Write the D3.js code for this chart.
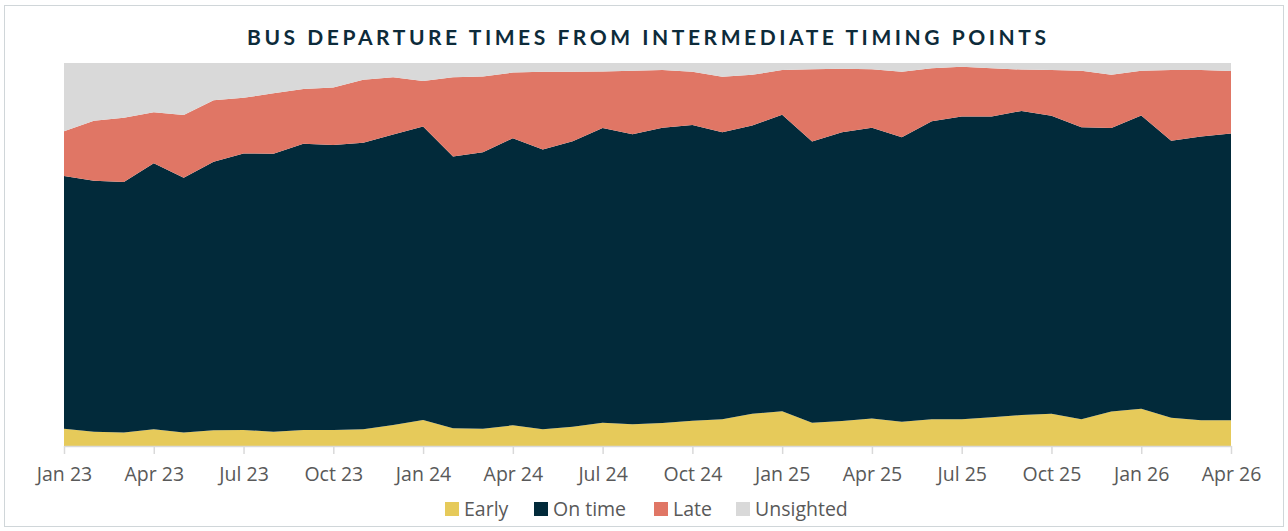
<!DOCTYPE html>
<html>
<head>
<meta charset="utf-8">
<script src="https://cdn.jsdelivr.net/npm/d3@7"></script>
<style>
  body { margin: 0; background: #fff; }
  svg { display: block; }
</style>
</head>
<body>
<div id="chart"></div>
<script>
// Bus departure times, share of departures by punctuality band (stacked to 100%)

const months = [
  "Jan 23", "Feb 23", "Mar 23", "Apr 23", "May 23", "Jun 23", "Jul 23", "Aug 23", "Sep 23", "Oct 23", "Nov 23", "Dec 23",
  "Jan 24", "Feb 24", "Mar 24", "Apr 24", "May 24", "Jun 24", "Jul 24", "Aug 24", "Sep 24", "Oct 24", "Nov 24", "Dec 24",
  "Jan 25", "Feb 25", "Mar 25", "Apr 25", "May 25", "Jun 25", "Jul 25", "Aug 25", "Sep 25", "Oct 25", "Nov 25", "Dec 25",
  "Jan 26", "Feb 26", "Mar 26", "Apr 26"
];

const early = [
  4.5, 3.7, 3.5, 4.4, 3.5, 4.1, 4.2, 3.7, 4.2, 4.2, 4.4, 5.5,
  6.8, 4.6, 4.5, 5.4, 4.4, 5.0, 6.1, 5.7, 6.0, 6.6, 7.0, 8.4,
  9.1, 6.1, 6.5, 7.2, 6.3, 7.0, 7.0, 7.5, 8.1, 8.4, 7.0, 9.0,
  9.7, 7.4, 6.7, 6.7
];
const onTime = [
  66.0, 65.6, 65.5, 69.5, 66.6, 70.1, 72.2, 72.6, 74.8, 74.3, 74.8, 75.8,
  76.6, 70.9, 72.2, 74.9, 73.0, 74.6, 76.9, 75.6, 77.1, 77.2, 74.9, 75.3,
  77.4, 73.4, 75.4, 75.9, 74.3, 77.8, 79.0, 78.5, 79.4, 77.8, 76.2, 74.0,
  76.6, 72.2, 74.0, 74.9
];
const late = [
  11.7, 15.7, 16.8, 13.3, 16.4, 16.1, 14.5, 15.8, 14.3, 15.0, 16.4, 15.0,
  11.9, 20.7, 19.8, 17.1, 20.3, 18.1, 14.8, 16.6, 15.1, 13.9, 14.5, 13.2,
  11.7, 18.9, 16.6, 15.3, 17.1, 13.8, 13.0, 12.6, 10.8, 12.0, 14.8, 13.9,
  11.7, 18.5, 17.4, 16.3
];
const unsighted = [
  17.8, 15.1, 14.3, 12.9, 13.6, 9.7, 9.1, 7.9, 6.8, 6.4, 4.4, 3.7,
  4.7, 3.7, 3.5, 2.5, 2.3, 2.3, 2.2, 2.0, 1.8, 2.3, 3.6, 3.1,
  1.8, 1.6, 1.5, 1.6, 2.3, 1.4, 1.0, 1.4, 1.7, 1.8, 2.0, 3.1,
  2.0, 1.8, 1.8, 2.1
];

const seriesNames = ["Early", "On time", "Late", "Unsighted"];
const seriesColors = ["#e6ca5a", "#022a3a", "#e07665", "#d9d9d9"];

const W = 1288, H = 531;
const plot = { left: 64, right: 1231, top: 63, bottom: 446 };
const labelFont = "'Open Sans', Lato, sans-serif";

const svg = d3.select("#chart").append("svg")
  .attr("width", W)
  .attr("height", H);

// outer frame
svg.append("rect")
  .attr("x", 4.5).attr("y", 5.5)
  .attr("width", 1279).attr("height", 521)
  .attr("fill", "#fff")
  .attr("stroke", "#d0d6d9")
  .attr("stroke-width", 1);

svg.append("text")
  .attr("x", 646.5)
  .attr("y", 44.5)
  .attr("text-anchor", "middle")
  .attr("textLength", 799)
  .attr("lengthAdjust", "spacing")
  .style("font-family", "Lato, 'Open Sans', sans-serif")
  .style("font-weight", 700)
  .style("font-size", "21px")
  .style("fill", "#0d2b3a")
  .text("BUS DEPARTURE TIMES FROM INTERMEDIATE TIMING POINTS");

const rows = months.map((m, i) => ({
  month: m,
  "Early": early[i],
  "On time": onTime[i],
  "Late": late[i],
  "Unsighted": unsighted[i]
}));

const stacked = d3.stack()
  .keys(seriesNames)
  .offset(d3.stackOffsetExpand)(rows);

const x = d3.scalePoint()
  .domain(months)
  .range([plot.left, plot.right])
  .padding(0);

const y = d3.scaleLinear()
  .domain([0, 1])
  .range([plot.bottom, plot.top]);

const area = d3.area()
  .x((d) => x(d.data.month))
  .y0((d) => y(d[0]))
  .y1((d) => y(d[1]));

svg.append("g")
  .selectAll("path")
  .data(stacked)
  .enter()
  .append("path")
  .attr("fill", (d, i) => seriesColors[i])
  .attr("d", area);

const xAxis = svg.append("g")
  .attr("transform", `translate(0,${plot.bottom})`)
  .call(
    d3.axisBottom(x)
      .tickValues(months.filter((m, i) => i % 3 === 0))
      .tickSize(8)
      .tickPadding(13)
      .tickSizeOuter(0)
  );

xAxis.select(".domain").attr("stroke", "#d9d9d9").attr("stroke-width", 1.5);
xAxis.selectAll(".tick line").attr("stroke", "#d9d9d9").attr("stroke-width", 1.5);
xAxis.selectAll(".tick text")
  .style("font-family", labelFont)
  .style("font-size", "19.5px")
  .style("fill", "#595959");

// legend
const legendX = [445, 534, 654, 736];
const legend = svg.append("g")
  .selectAll("g")
  .data(seriesNames)
  .enter()
  .append("g")
  .attr("transform", (d, i) => `translate(${legendX[i]},502)`);

legend.append("rect")
  .attr("width", 14)
  .attr("height", 14)
  .attr("fill", (d, i) => seriesColors[i]);

legend.append("text")
  .attr("x", 19)
  .attr("y", 14)
  .style("font-family", labelFont)
  .style("font-size", "19.5px")
  .style("fill", "#595959")
  .text((d) => d);
</script>
</body>
</html>
